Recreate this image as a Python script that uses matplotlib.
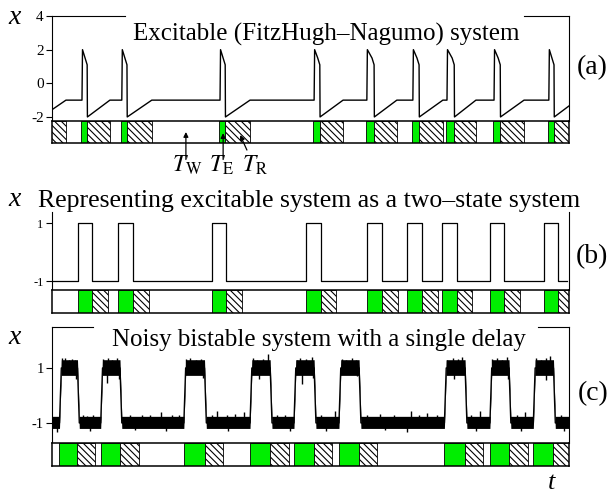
import numpy as np
import matplotlib
matplotlib.use("Agg")
import matplotlib.pyplot as plt

plt.rcParams['font.family'] = ['Liberation Serif', 'DejaVu Serif']
plt.rcParams['mathtext.fontset'] = 'stix'
plt.rcParams['hatch.linewidth'] = 0.8

GREEN = '#00ee00'
HATCH = '\\' * 5

# ----- (a) FitzHugh-Nagumo: excitation start/end, end of refractory time -----
a_exc_start = [-3.3, 5.6, 13.3, 32.3, 50.5, 60.7, 69.6, 76.2, 85.3, 95.9]
a_exc_end = [-2.1, 6.8, 14.5, 33.5, 51.8, 62.3, 71.0, 77.8, 86.7, 97.1]
a_ref_end = [2.7, 11.2, 19.3, 38.3, 56.3, 66.7, 75.6, 82.0, 91.3, 101.5]
a_rest, a_peak, a_knee, a_reset = -1.0, 2.0, 1.1, -2.0
a_yticks = [-2, 0, 2, 4]
a_yticklabels = ['-2', '0', '2', '4']

# ----- (b) two-state picture -----
b_exc_start = [5.0, 12.8, 30.9, 49.1, 60.9, 68.7, 75.4, 84.7, 95.2]
b_exc_end = [7.7, 15.7, 33.7, 52.0, 63.8, 71.6, 78.4, 87.5, 97.9]
b_ref_end = [10.8, 18.8, 36.8, 54.9, 66.9, 74.7, 81.2, 90.5, 101.0]

# ----- (c) noisy bistable system with delay -----
c_exc_start = [1.45, 9.42, 25.5, 38.3, 46.8, 55.5, 75.9, 84.7, 93.1]
c_exc_end = [4.93, 13.15, 29.5, 42.2, 50.7, 59.4, 79.9, 88.4, 97.0]
c_ref_end = [8.3, 16.8, 33.0, 45.8, 54.2, 62.9, 83.4, 92.0, 100.5]
# noise excursions (time, extreme value)
c_up_t = [2.0, 2.5, 3.2, 3.8, 4.4, 9.9, 10.9, 11.6, 12.5, 26.0, 26.7, 27.8, 28.9,
          38.8, 39.6, 40.8, 41.8, 47.3, 48.0, 49.2, 50.2, 56.0, 56.9, 58.0, 58.8,
          76.4, 77.5, 78.6, 79.4, 85.2, 86.0, 87.0, 88.0, 93.6, 94.5, 95.5, 96.4]
c_up_v = [1.38, 1.35, 1.3, 1.32, 1.3, 1.33, 1.38, 1.3, 1.35, 1.32, 1.35, 1.3, 1.33,
          1.35, 1.3, 1.32, 1.5, 1.3, 1.38, 1.32, 1.4, 1.33, 1.3, 1.35, 1.3,
          1.3, 1.38, 1.32, 1.4, 1.32, 1.38, 1.3, 1.4, 1.35, 1.3, 1.35, 1.45]
c_dip_t = [4.6, 10.6, 12.9, 29.2, 40.0, 48.3, 50.5, 59.0, 77.8, 88.2, 95.6]
c_dip_v = [0.6, 0.45, 0.6, 0.65, 0.6, 0.4, 0.65, 0.7, 0.6, 0.6, 0.55]
c_low_up_t = [6.0, 6.7, 8.0, 15.0, 17.5, 19.0, 21.0, 23.3, 24.5, 31.0, 32.0, 33.8,
              35.4, 37.1, 43.5, 45.0, 52.0, 54.7, 61.0, 63.5, 66.1, 69.5, 71.0, 72.5,
              74.5, 81.0, 82.8, 90.0, 91.5, 98.5]
c_low_up_v = [-0.7, -0.75, -0.7, -0.72, -0.7, -0.7, -0.62, -0.72, -0.7, -0.7, -0.55, -0.72,
              -0.68, -0.62, -0.7, -0.72, -0.7, -0.58, -0.72, -0.68, -0.7, -0.58, -0.72, -0.65,
              -0.7, -0.7, -0.55, -0.7, -0.6, -0.7]
c_low_dn_t = [1.0, 7.3, 16.0, 22.0, 34.0, 46.0, 53.0, 64.5, 68.7, 82.0, 90.8, 99.0]
c_low_dn_v = [-1.32, -1.28, -1.27, -1.28, -1.28, -1.3, -1.28, -1.27, -1.33, -1.28, -1.3, -1.28]

fig = plt.figure(figsize=(6.14, 4.93), dpi=100)
W, H = 614.0, 493.0


def box(left, top, right, bottom):
    # pixel box -> figure fraction
    return [left / W, 1 - bottom / H, (right - left) / W, (bottom - top) / H]


def state_bar(ax, starts, ends, ref_ends):
    for s, e, r in zip(starts, ends, ref_ends):
        ax.axvspan(s, e, facecolor=GREEN, edgecolor='k', lw=0.6)
        ax.axvspan(e, r, facecolor='white', edgecolor='k', hatch=HATCH, lw=0.6)
    ax.set_xlim(0, 100)
    ax.set_ylim(0, 1)
    ax.set_xticks([])
    ax.set_yticks([])
    for sp in ax.spines.values():
        sp.set_linewidth(1.1)


def trace_axes(ax, ylim, yticks, yticklabels, fs):
    ax.set_xlim(0, 100)
    ax.set_ylim(*ylim)
    ax.set_xticks([])
    ax.set_yticks(yticks)
    ax.set_yticklabels(yticklabels, fontsize=fs)
    ax.tick_params(axis='y', direction='out', length=4, width=0.8, pad=2)
    ax.spines['bottom'].set_visible(False)
    ax.spines['top'].set_visible(False)
    for sp in ['left', 'right']:
        ax.spines[sp].set_linewidth(0.8)
    ax.patch.set_alpha(0)


def top_line(ax, y, x0, x1):
    ax.axhline(y, x0, x1, color='k', lw=0.8, clip_on=False)


def level_at(times, starts, ends):
    out = np.full(len(times), -1.0)
    for i, t in enumerate(times):
        for s, e in zip(starts, ends):
            if s <= t <= e + 0.35:
                out[i] = 1.0
    return out


# ----- panel (a) -----
ax_a = fig.add_axes(box(52, 16, 569, 121))
ta, va = [], []
for s, e, r in zip(a_exc_start, a_exc_end, a_ref_end):
    ta += [s + 0.2, s + 0.3, e - 0.4, e, e + 0.05, r]
    va += [a_rest, a_peak, 1.5, a_knee, a_reset, a_rest]
ax_a.plot(ta, va, color='k', lw=1.0)
trace_axes(ax_a, (-2.24, 4), a_yticks, a_yticklabels, 11)
top_line(ax_a, 4, 0, 0.141)
top_line(ax_a, 4, 0.913, 1)
ax_a.text(0.53, 0.82, 'Excitable (FitzHugh\u2013Nagumo) system', transform=ax_a.transAxes,
          ha='center', va='center', fontsize=18)

bar_a = fig.add_axes(box(52, 121, 569, 143))
state_bar(bar_a, a_exc_start, a_exc_end, a_ref_end)
arrow = dict(arrowstyle='-|>', lw=0.9, color='k', mutation_scale=7, shrinkA=0, shrinkB=0)
bar_a.annotate('', xy=(25.9, 0.5), xytext=(25.9, -0.75), arrowprops=arrow, annotation_clip=False)
bar_a.annotate('', xy=(33.1, 0.45), xytext=(33.1, -0.75), arrowprops=arrow, annotation_clip=False)
bar_a.annotate('', xy=(36.4, 0.36), xytext=(37.7, -0.32), arrowprops=arrow, annotation_clip=False)
bar_a.text(26.1, -1.32, r'$T_{\mathrm{W}}$', ha='center', va='baseline', fontsize=17)
bar_a.text(32.7, -1.32, r'$T_{\mathrm{E}}$', ha='center', va='baseline', fontsize=17)
bar_a.text(39.3, -1.32, r'$T_{\mathrm{R}}$', ha='center', va='baseline', fontsize=17)

# ----- panel (b) -----
ax_b = fig.add_axes(box(52, 212, 569, 290))
tb, vb = [0], [-1]
for s, e in zip(b_exc_start, b_exc_end):
    tb += [s, s, e, e]
    vb += [-1, 1, 1, -1]
tb.append(99.6)
vb.append(-1)
ax_b.plot(tb, vb, color='k', lw=0.9)
trace_axes(ax_b, (-1.31, 1.38), [-1, 1], ['-1', '1'], 9)

bar_b = fig.add_axes(box(52, 290, 569, 313))
state_bar(bar_b, b_exc_start, b_exc_end, b_ref_end)

# ----- panel (c) -----
ax_c = fig.add_axes(box(52, 327, 569, 443))
tc, vc = [0], [-1]
for s, e in zip(c_exc_start, c_exc_end):
    tc += [s, s + 0.35, e, e + 0.35]
    vc += [-1, 1, 1, -1]
tc.append(100)
vc.append(-1)
tc = np.array(tc)
vc = np.array(vc, dtype=float)
up = np.where(vc > 0, 0.3, 0.24)
dn = np.where(vc > 0, 0.27, 0.2)
ax_c.fill_between(tc, vc - dn, vc + up, color='k', lw=0)
ax_c.plot(tc, vc, color='k', lw=1.0)
ax_c.vlines(c_up_t, level_at(c_up_t, c_exc_start, c_exc_end), c_up_v, color='k', lw=1.0)
ax_c.vlines(c_dip_t, level_at(c_dip_t, c_exc_start, c_exc_end), c_dip_v, color='k', lw=1.0)
ax_c.vlines(c_low_up_t, -1.0, c_low_up_v, color='k', lw=1.0)
ax_c.vlines(c_low_dn_t, -1.0, c_low_dn_v, color='k', lw=1.0)
trace_axes(ax_c, (-1.73, 2.49), [-1, 1], ['-1', '1'], 10.5)
top_line(ax_c, 2.49, 0, 0.079)
top_line(ax_c, 2.49, 0.940, 1)
ax_c.text(0.517, 0.885, 'Noisy bistable system with a single delay', transform=ax_c.transAxes,
          ha='center', va='center', fontsize=18)

bar_c = fig.add_axes(box(52, 443, 569, 466))
state_bar(bar_c, c_exc_start, c_exc_end, c_ref_end)

# ----- labels -----
fig.text(15 / W, 1 - 17 / H, 'x', style='italic', fontsize=20, ha='center', va='center')
fig.text(15 / W, 1 - 199 / H, 'x', style='italic', fontsize=20, ha='center', va='center')
fig.text(15 / W, 1 - 338 / H, 'x', style='italic', fontsize=20, ha='center', va='center')
fig.text(309 / W, 1 - 201 / H, 'Representing excitable system as a two\u2013state system',
         fontsize=18.5, ha='center', va='center')
fig.text(592 / W, 1 - 68 / H, '(a)', fontsize=20, ha='center', va='center')
fig.text(592 / W, 1 - 257 / H, '(b)', fontsize=20, ha='center', va='center')
fig.text(593 / W, 1 - 394 / H, '(c)', fontsize=20, ha='center', va='center')
fig.text(552 / W, 1 - 489 / H, 't', style='italic', fontsize=19, ha='center', va='baseline')

fig.savefig('out.png', dpi=100)
